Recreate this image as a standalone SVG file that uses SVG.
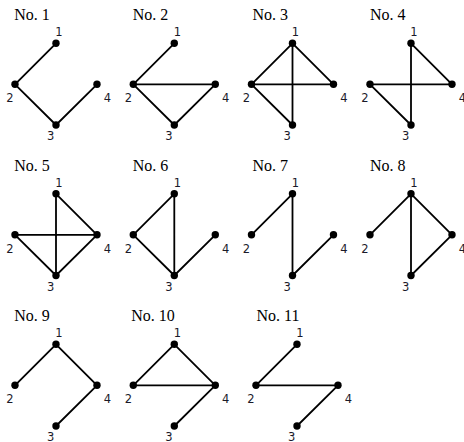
<svg xmlns="http://www.w3.org/2000/svg" width="464" height="442" viewBox="0 0 464 442">
<style>
.title{font-family:"Liberation Serif","Times New Roman",serif;font-size:16px;fill:#000}
.lbl{font-family:"DejaVu Sans","Liberation Sans",sans-serif;font-size:11.5px;fill:#1a1a2a;text-anchor:middle}
.e{stroke:#000;stroke-width:1.8;fill:none;stroke-linecap:round}
.n{fill:#000}
</style>
<defs>
<g id="N1"><circle class="n" cx="41" cy="43.3" r="3.7"/><text class="lbl" x="44" y="36">1</text></g>
<g id="N2"><circle class="n" cx="0" cy="84.3" r="3.7"/><text class="lbl" x="-5" y="102">2</text></g>
<g id="N3"><circle class="n" cx="41" cy="125" r="3.7"/><text class="lbl" x="35.7" y="140">3</text></g>
<g id="N4"><circle class="n" cx="82" cy="84.3" r="3.7"/><text class="lbl" x="92.4" y="102">4</text></g>
</defs>

<g id="panel1" transform="translate(15,0)">
<text class="title" x="-0.7" y="20">No. 1</text>
<g id="edges1"><path class="e" d="M41 43.3L0 84.3M0 84.3L41 125M41 125L82 84.3"/></g>
<g id="p1n1"><use href="#N1"/></g><g id="p1n2"><use href="#N2"/></g><g id="p1n3"><use href="#N3"/></g><g id="p1n4"><use href="#N4"/></g>
</g>

<g id="panel2" transform="translate(133.3,0)">
<text class="title" x="-0.5" y="20">No. 2</text>
<g id="edges2"><path class="e" d="M41 43.3L0 84.3M0 84.3L82 84.3M0 84.3L41 125M41 125L82 84.3"/></g>
<g id="p2n1"><use href="#N1"/></g><g id="p2n2"><use href="#N2"/></g><g id="p2n3"><use href="#N3"/></g><g id="p2n4"><use href="#N4"/></g>
</g>

<g id="panel3" transform="translate(251.5,0)">
<text class="title" x="1" y="20">No. 3</text>
<g id="edges3"><path class="e" d="M41 43.3L0 84.3M41 43.3L41 125M41 43.3L82 84.3M0 84.3L82 84.3M0 84.3L41 125"/></g>
<g id="p3n1"><use href="#N1"/></g><g id="p3n2"><use href="#N2"/></g><g id="p3n3"><use href="#N3"/></g><g id="p3n4"><use href="#N4"/></g>
</g>

<g id="panel4" transform="translate(370,0)">
<text class="title" x="0" y="20">No. 4</text>
<g id="edges4"><path class="e" d="M41 43.3L41 125M41 43.3L82 84.3M0 84.3L82 84.3M0 84.3L41 125"/></g>
<g id="p4n1"><use href="#N1"/></g><g id="p4n2"><use href="#N2"/></g><g id="p4n3"><use href="#N3"/></g><g id="p4n4"><use href="#N4"/></g>
</g>

<g id="panel5" transform="translate(15,150.5)">
<text class="title" x="-0.7" y="20">No. 5</text>
<g id="edges5"><path class="e" d="M41 43.3L41 125M41 43.3L82 84.3M0 84.3L82 84.3M0 84.3L41 125M41 125L82 84.3"/></g>
<g id="p5n1"><use href="#N1"/></g><g id="p5n2"><use href="#N2"/></g><g id="p5n3"><use href="#N3"/></g><g id="p5n4"><use href="#N4"/></g>
</g>

<g id="panel6" transform="translate(133.3,150.5)">
<text class="title" x="-0.5" y="20">No. 6</text>
<g id="edges6"><path class="e" d="M41 43.3L0 84.3M41 43.3L41 125M0 84.3L41 125M41 125L82 84.3"/></g>
<g id="p6n1"><use href="#N1"/></g><g id="p6n2"><use href="#N2"/></g><g id="p6n3"><use href="#N3"/></g><g id="p6n4"><use href="#N4"/></g>
</g>

<g id="panel7" transform="translate(251.5,150.5)">
<text class="title" x="1" y="20">No. 7</text>
<g id="edges7"><path class="e" d="M41 43.3L0 84.3M41 43.3L41 125M41 125L82 84.3"/></g>
<g id="p7n1"><use href="#N1"/></g><g id="p7n2"><use href="#N2"/></g><g id="p7n3"><use href="#N3"/></g><g id="p7n4"><use href="#N4"/></g>
</g>

<g id="panel8" transform="translate(370,150.5)">
<text class="title" x="0" y="20">No. 8</text>
<g id="edges8"><path class="e" d="M41 43.3L0 84.3M41 43.3L41 125M41 43.3L82 84.3M41 125L82 84.3"/></g>
<g id="p8n1"><use href="#N1"/></g><g id="p8n2"><use href="#N2"/></g><g id="p8n3"><use href="#N3"/></g><g id="p8n4"><use href="#N4"/></g>
</g>

<g id="panel9" transform="translate(15,301)">
<text class="title" x="-0.7" y="20">No. 9</text>
<g id="edges9"><path class="e" d="M41 43.3L0 84.3M41 43.3L82 84.3M41 125L82 84.3"/></g>
<g id="p9n1"><use href="#N1"/></g><g id="p9n2"><use href="#N2"/></g><g id="p9n3"><use href="#N3"/></g><g id="p9n4"><use href="#N4"/></g>
</g>

<g id="panel10" transform="translate(133.3,301)">
<text class="title" x="-2" y="20">No. 10</text>
<g id="edges10"><path class="e" d="M41 43.3L0 84.3M41 43.3L82 84.3M0 84.3L82 84.3M41 125L82 84.3"/></g>
<g id="p10n1"><use href="#N1"/></g><g id="p10n2"><use href="#N2"/></g><g id="p10n3"><use href="#N3"/></g><g id="p10n4"><use href="#N4"/></g>
</g>

<g id="panel11" transform="translate(256,301)">
<text class="title" x="0.5" y="20">No. 11</text>
<g id="edges11"><path class="e" d="M41 43.3L0 84.3M0 84.3L82 84.3M41 125L82 84.3"/></g>
<g id="p11n1"><use href="#N1"/></g><g id="p11n2"><use href="#N2"/></g><g id="p11n3"><use href="#N3"/></g><g id="p11n4"><use href="#N4"/></g>
</g>
</svg>
